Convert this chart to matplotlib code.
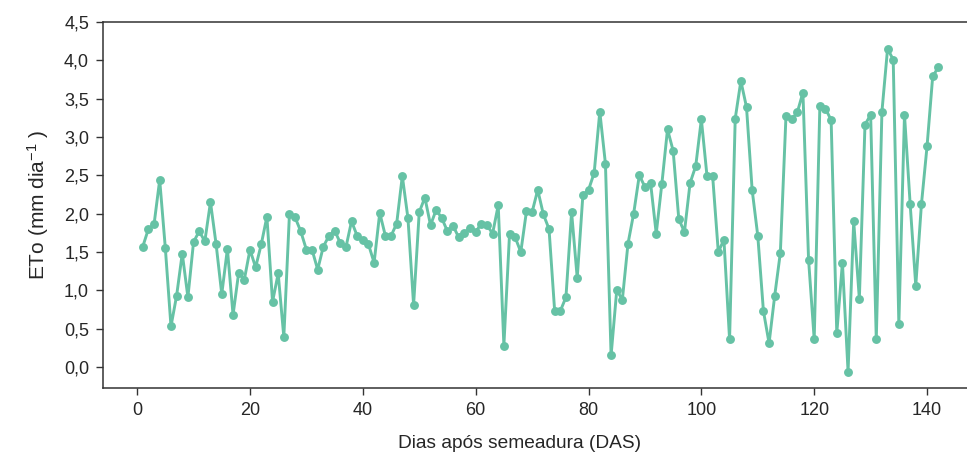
import matplotlib
matplotlib.use("Agg")
import matplotlib.pyplot as plt
from matplotlib.ticker import FuncFormatter, MultipleLocator

# Daily reference evapotranspiration (ETo) by days after sowing
das = list(range(1, 143))
eto = [
    1.57, 1.80, 1.86, 2.44, 1.55, 0.53, 0.93, 1.48, 0.91, 1.63,
    1.77, 1.64, 2.15, 1.60, 0.95, 1.54, 0.68, 1.23, 1.14, 1.53,
    1.30, 1.60, 1.96, 0.85, 1.22, 0.39, 2.00, 1.95, 1.77, 1.53,
    1.53, 1.27, 1.57, 1.71, 1.78, 1.62, 1.56, 1.90, 1.71, 1.65,
    1.60, 1.36, 2.01, 1.71, 1.71, 1.87, 2.49, 1.94, 0.81, 2.02,
    2.21, 1.85, 2.05, 1.94, 1.77, 1.84, 1.69, 1.75, 1.81, 1.76,
    1.87, 1.85, 1.74, 2.11, 0.28, 1.73, 1.69, 1.50, 2.03, 2.02,
    2.31, 1.99, 1.80, 0.73, 0.73, 0.91, 2.02, 1.16, 2.24, 2.31,
    2.53, 3.33, 2.65, 0.15, 1.00, 0.88, 1.61, 2.00, 2.50, 2.35,
    2.40, 1.74, 2.39, 3.10, 2.82, 1.93, 1.76, 2.40, 2.62, 3.23,
    2.49, 2.49, 1.50, 1.66, 0.36, 3.24, 3.73, 3.39, 2.31, 1.71,
    0.73, 0.31, 0.93, 1.49, 3.28, 3.23, 3.32, 3.58, 1.40, 0.36,
    3.40, 3.37, 3.22, 0.44, 1.36, -0.06, 1.90, 0.89, 3.16, 3.29,
    0.36, 3.33, 4.15, 4.01, 0.56, 3.29, 2.13, 1.06, 2.12, 2.88,
    3.79, 3.91,
]

x_label = "Dias após semeadura (DAS)"
y_label = r"ETo (mm dia$^{-1}$ )"
line_color = "#66c2a5"

plt.rcParams["font.family"] = ["Liberation Sans", "DejaVu Sans"]
plt.rcParams["mathtext.fontset"] = "custom"
plt.rcParams["mathtext.rm"] = "Liberation Sans"
plt.rcParams["mathtext.it"] = "Liberation Sans"
plt.rcParams["mathtext.default"] = "regular"

fig = plt.figure(figsize=(9.67, 4.57), dpi=100)
ax = fig.add_axes([0.1065, 0.1516, 0.905, 0.8003])

ax.plot(das, eto, color=line_color, lw=2.1, marker="o", ms=6.4,
        markeredgewidth=0)

ax.set_ylim(top=4.5)
ax.yaxis.set_major_locator(MultipleLocator(0.5))
ax.yaxis.set_major_formatter(FuncFormatter(lambda v, p: f"{v:.1f}".replace(".", ",")))
ax.xaxis.set_major_locator(MultipleLocator(20))

for side in ("top", "bottom", "left"):
    ax.spines[side].set_color("#333333")
    ax.spines[side].set_linewidth(1.1)
ax.spines["right"].set_visible(False)

ax.tick_params(axis="both", which="major", length=5, width=1, color="#333333",
               labelsize=13, labelcolor="#262626", pad=5)
ax.set_xlabel(x_label, fontsize=13.8, color="#262626", va="top")
ax.xaxis.set_label_coords(0.4755, -0.128)
ax.set_ylabel(y_label, fontsize=15, color="#262626", labelpad=9)

fig.savefig("out.png", dpi=100)
